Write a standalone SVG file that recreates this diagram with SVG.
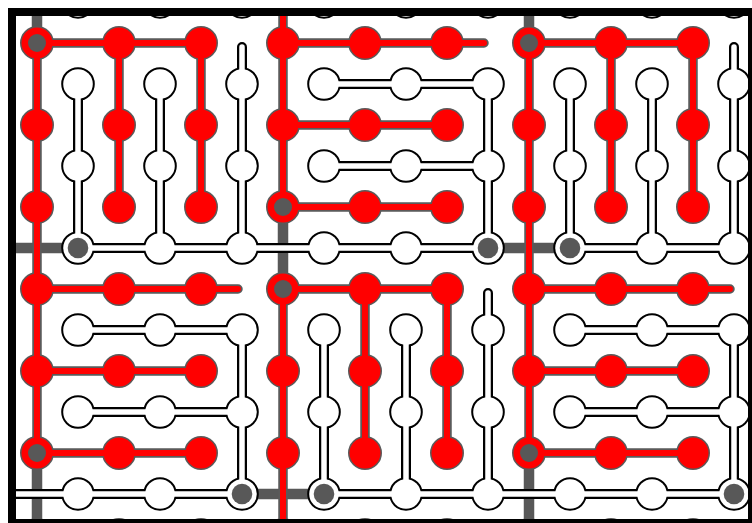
<svg xmlns="http://www.w3.org/2000/svg" width="752" height="523" viewBox="0 0 752 523">
<defs>
<style>
.pipe{fill:none;stroke-linecap:round;stroke-linejoin:round}
.wo{stroke:#000;stroke-width:10}
.wi{stroke:#fff;stroke-width:5.5}
.wco{fill:#000;stroke:#000;stroke-width:4}
.wci{fill:#fff;stroke:none}
.ro{stroke:#5a5a5a;stroke-width:9.5}
.ri{stroke:#f00;stroke-width:6}
.rco{fill:#5a5a5a;stroke:#5a5a5a;stroke-width:3}
.rci{fill:#f00;stroke:none}
.link{fill:none;stroke:#585858;stroke-width:10.5;stroke-linecap:butt}
.root{fill:#585858}
</style>
<clipPath id="inside"><rect x="16" y="16" width="732" height="503"/></clipPath>
<path id="wpath" d="M78 84V248M160 84V248M242 47V248M78 248H488M324 84H488M324 166H488M488 84V248M570 84V248M652 84V248M734 47V248M570 248H820M78 330H242M78 412H242M0 494H242M242 330V494M324 330V494M406 330V494M488 293V494M324 494H734M570 330H734M570 412H734M734 330V494"/>
<path id="rpath" d="M37 43H201M37 43V453M119 43V207M201 43V207M283 0V207M283 43H484M283 125H447M283 207H447M529 43H693M529 43V453M611 43V207M693 43V207M37 289H238M37 371H201M37 453H201M283 289H447M283 289V540M365 289V453M447 289V453M529 289H730M529 371H693M529 453H693"/>
<g id="wrow">
<circle cx="78" cy="0" r="14.8"/><circle cx="160" cy="0" r="14.8"/><circle cx="242" cy="0" r="14.8"/><circle cx="324" cy="0" r="14.8"/><circle cx="406" cy="0" r="14.8"/><circle cx="488" cy="0" r="14.8"/><circle cx="570" cy="0" r="14.8"/><circle cx="652" cy="0" r="14.8"/><circle cx="734" cy="0" r="14.8"/>
</g>
<g id="wcircles">
<use href="#wrow" y="2"/><use href="#wrow" y="84"/><use href="#wrow" y="166"/><use href="#wrow" y="248"/><use href="#wrow" y="330"/><use href="#wrow" y="412"/><use href="#wrow" y="494"/>
</g>
<g id="rrow">
<circle cx="37" cy="0" r="15.5"/><circle cx="119" cy="0" r="15.5"/><circle cx="201" cy="0" r="15.5"/><circle cx="283" cy="0" r="15.5"/><circle cx="365" cy="0" r="15.5"/><circle cx="447" cy="0" r="15.5"/><circle cx="529" cy="0" r="15.5"/><circle cx="611" cy="0" r="15.5"/><circle cx="693" cy="0" r="15.5"/>
</g>
<g id="rcircles">
<use href="#rrow" y="43"/><use href="#rrow" y="125"/><use href="#rrow" y="207"/><use href="#rrow" y="289"/><use href="#rrow" y="371"/><use href="#rrow" y="453"/><use href="#rrow" y="535"/>
</g>
</defs>
<rect x="0" y="0" width="752" height="523" fill="#fff"/>
<g clip-path="url(#inside)">
<g id="links">
<path class="link" d="M37 0V43M529 0V43M283 207V289M37 453V540M529 453V540M0 248H78M488 248H570M242 494H324M734 494H760"/>
</g>
<g id="white-network">
<use href="#wpath" class="pipe wo"/>
<use href="#wcircles" class="wco"/>
<use href="#wpath" class="pipe wi"/>
<use href="#wcircles" class="wci"/>
</g>
<g id="red-network">
<use href="#rpath" class="pipe ro"/>
<use href="#rcircles" class="rco"/>
<use href="#rpath" class="pipe ri"/>
<use href="#rcircles" class="rci"/>
</g>
<g id="roots">
<circle class="root" cx="78" cy="248" r="10.3"/>
<circle class="root" cx="488" cy="248" r="10.3"/>
<circle class="root" cx="570" cy="248" r="10.3"/>
<circle class="root" cx="242" cy="494" r="10.3"/>
<circle class="root" cx="324" cy="494" r="10.3"/>
<circle class="root" cx="734" cy="494" r="10.3"/>
<circle class="root" cx="37" cy="43" r="9"/>
<circle class="root" cx="529" cy="43" r="9"/>
<circle class="root" cx="283" cy="207" r="9"/>
<circle class="root" cx="283" cy="289" r="9"/>
<circle class="root" cx="37" cy="453" r="9"/>
<circle class="root" cx="529" cy="453" r="9"/>
</g>
</g>
<rect id="frame" x="12" y="12" width="740" height="511" fill="none" stroke="#000" stroke-width="8"/>
</svg>
